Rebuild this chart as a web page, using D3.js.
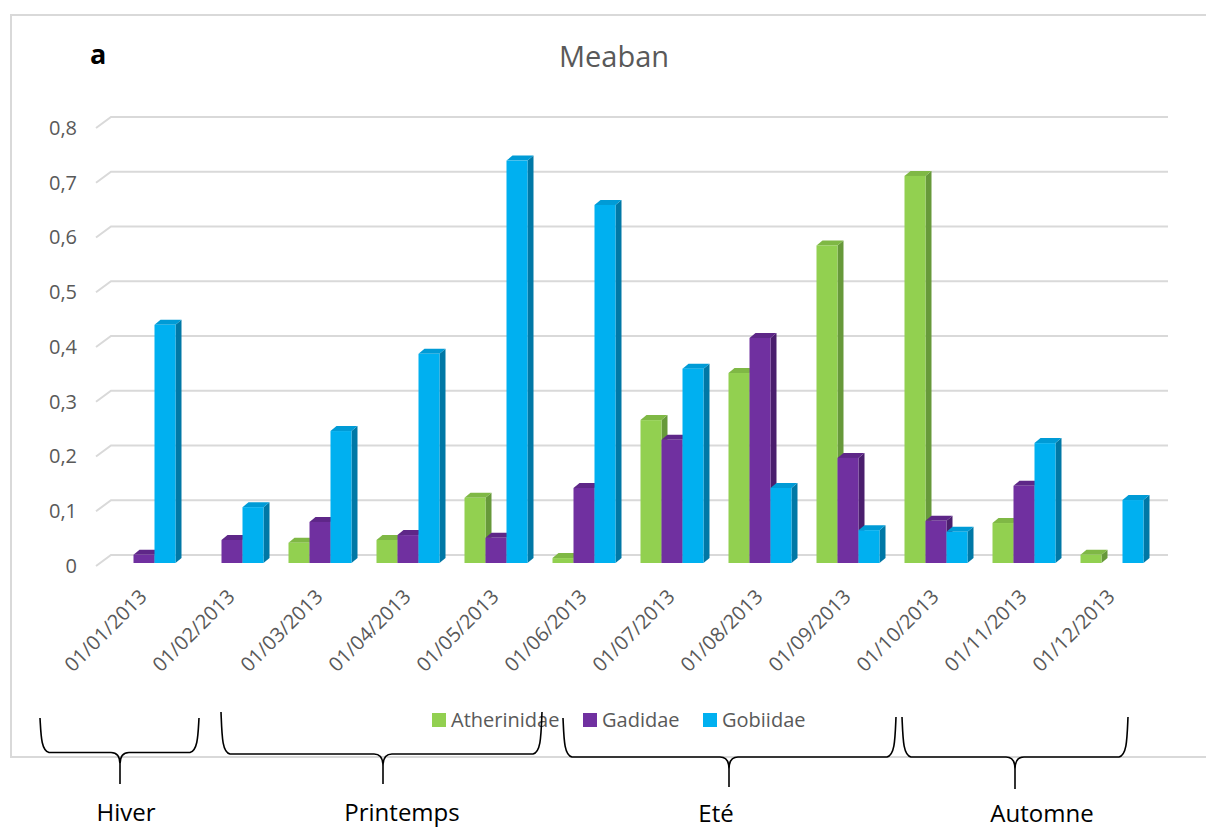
<!DOCTYPE html>
<html>
<head>
<meta charset="utf-8">
<script src="https://cdn.jsdelivr.net/npm/d3@7"></script>
<style>
  html, body { margin: 0; padding: 0; background: #fff; }
  svg { display: block; font-family: "Open Sans", "Noto Sans", sans-serif; }
</style>
</head>
<body>
<svg id="chart" width="1206" height="830"></svg>
<script>
// Monthly sampling dates
const dates = ["01/01/2013","01/02/2013","01/03/2013","01/04/2013","01/05/2013","01/06/2013",
               "01/07/2013","01/08/2013","01/09/2013","01/10/2013","01/11/2013","01/12/2013"];

// Families shown in each month
const families = ["Atherinidae", "Gadidae", "Gobiidae"];

// Values per family, one per month
const atherinidae = [0, 0, 0.037, 0.042, 0.119, 0.009, 0.261, 0.347, 0.58, 0.707, 0.073, 0.015];
const gadidae     = [0.015, 0.042, 0.075, 0.051, 0.046, 0.137, 0.225, 0.411, 0.192, 0.077, 0.141, 0];
const gobiidae    = [0.435, 0.102, 0.241, 0.382, 0.735, 0.654, 0.355, 0.137, 0.06, 0.057, 0.219, 0.115];

// Y axis ticks
const yTicks = [0, 0.1, 0.2, 0.3, 0.4, 0.5, 0.6, 0.7, 0.8];

// Seasons grouping the months
const seasons = ["Hiver", "Printemps", "Eté", "Automne"];

const colors = {
  Atherinidae: { front: "#92D050", top: "#7fb845", side: "#67993a" },
  Gadidae:     { front: "#7030A0", top: "#5e2788", side: "#4a1e6d" },
  Gobiidae:    { front: "#00B0F0", top: "#009bd6", side: "#0078a6" }
};

const seriesValues = { Atherinidae: atherinidae, Gadidae: gadidae, Gobiidae: gobiidae };

const svg = d3.select("#chart");

// Chart frame
svg.append("rect")
  .attr("x", 11).attr("y", 15)
  .attr("width", 1300).attr("height", 742)
  .attr("fill", "none").attr("stroke", "#d9d9d9").attr("stroke-width", 2);

// Scales
const x0 = d3.scaleBand().domain(dates).range([100, 1156]);
const x1 = d3.scaleBand().domain(families).range([12.5, 75.5]);
const yBack = d3.scaleLinear().domain([0, 0.8]).range([555, 117]);   // back wall
const yBar  = d3.scaleLinear().domain([0, 0.8]).range([563, 125]);   // bar front faces
const depthX = 15, depthY = 11;   // floor offset from back wall to front
const dx = 6, dy = 5;             // bar depth

const fr = d3.formatLocale({ decimal: ",", thousands: " ", grouping: [3], currency: ["", "€"] });
const fmt = fr.format(".1~f");

// Gridlines: back-wall segment plus slanted floor segment
const grid = svg.append("g").attr("stroke", "#d9d9d9").attr("stroke-width", 2).attr("fill", "none");
yTicks.forEach(t => {
  const yb = yBack(t);
  grid.append("path")
    .attr("d", `M${96},${yb + depthY} L${96 + depthX},${yb} L1168,${yb}`);
});

// Y axis labels
const yAxisG = svg.append("g")
  .attr("transform", `translate(${77},${depthY})`)
  .call(d3.axisLeft(yBack).tickValues(yTicks).tickSize(0).tickPadding(0).tickFormat(fmt));
yAxisG.select(".domain").remove();
yAxisG.selectAll("text")
  .attr("fill", "#595959")
  .style("font-family", "'Open Sans', sans-serif")
  .style("font-size", "20px");

// Bars
const groups = svg.append("g").selectAll("g.month")
  .data(dates)
  .join("g")
  .attr("class", "month")
  .attr("transform", d => `translate(${x0(d)},0)`);

groups.each(function(d, i) {
  const g = d3.select(this);
  families.forEach(f => {
    const v = seriesValues[f][i];
    if (!(v > 0)) return;
    const x = x1(f), w = x1.bandwidth();
    const yt = yBar(v), y0 = yBar(0);
    const c = colors[f];
    // side face
    g.append("path")
      .attr("d", `M${x + w},${yt} L${x + w + dx},${yt - dy} L${x + w + dx},${y0 - dy} L${x + w},${y0} Z`)
      .attr("fill", c.side);
    // top face
    g.append("path")
      .attr("d", `M${x},${yt} L${x + dx},${yt - dy} L${x + w + dx},${yt - dy} L${x + w},${yt} Z`)
      .attr("fill", c.top);
    // front face
    g.append("rect")
      .attr("x", x).attr("y", yt)
      .attr("width", w).attr("height", y0 - yt)
      .attr("fill", c.front);
  });
});

// X axis labels, rotated
svg.append("g").selectAll("text")
  .data(dates)
  .join("text")
  .attr("transform", d => `translate(${x0(d) + x0.bandwidth() / 2 + 4},${598}) rotate(-45)`)
  .attr("text-anchor", "end")
  .attr("fill", "#595959")
  .style("font-size", "20px")
  .text(d => d);

// Title and panel letter
svg.append("text")
  .attr("x", 614).attr("y", 67)
  .attr("text-anchor", "middle")
  .attr("fill", "#595959")
  .style("font-size", "29px")
  .text("Meaban");

svg.append("text")
  .attr("x", 90).attr("y", 64)
  .attr("fill", "#000")
  .style("font-size", "27px").style("font-weight", "bold")
  .text("a");

// Legend
const legendX = [432, 583, 703];
const legend = svg.append("g").selectAll("g")
  .data(families)
  .join("g")
  .attr("transform", (d, i) => `translate(${legendX[i]},713)`);
legend.append("rect").attr("width", 14).attr("height", 14).attr("fill", d => colors[d].front);
legend.append("text")
  .attr("x", 19).attr("y", 14)
  .attr("fill", "#595959")
  .style("font-size", "20px")
  .text(d => d);

// Season braces
const braces = [
  { x1: 40,  x2: 199,  top1: 718, top2: 718, h: 752.5, xt: 120,  tip: 784 },
  { x1: 221, x2: 542,  top1: 712, top2: 712, h: 754,   xt: 383,  tip: 784 },
  { x1: 563, x2: 896,  top1: 718, top2: 717, h: 757,   xt: 729,  tip: 787 },
  { x1: 902, x2: 1128, top1: 717, top2: 717, h: 757,   xt: 1015, tip: 789 }
];
const labelPos = [
  { x: 126,  y: 821 },
  { x: 402,  y: 821 },
  { x: 716,  y: 822 },
  { x: 1042, y: 822 }
];

function bracePath(b) {
  const r = 9, tr = 9;
  return `M${b.x1},${b.top1}
    C${b.x1 + 1},${b.h - 18} ${b.x1 + 1},${b.h - 2} ${b.x1 + r},${b.h}
    L${b.xt - tr},${b.h}
    C${b.xt - 3},${b.h} ${b.xt},${b.h + 4} ${b.xt},${b.h + 12}
    L${b.xt},${b.tip}
    M${b.xt},${b.h + 12}
    C${b.xt},${b.h + 4} ${b.xt + 3},${b.h} ${b.xt + tr},${b.h}
    L${b.x2 - r},${b.h}
    C${b.x2 - 1},${b.h - 2} ${b.x2 - 1},${b.h - 18} ${b.x2},${b.top2}`;
}

svg.append("g").selectAll("path")
  .data(braces)
  .join("path")
  .attr("d", bracePath)
  .attr("fill", "none")
  .attr("stroke", "#000")
  .attr("stroke-width", 1.6);

svg.append("g").selectAll("text")
  .data(seasons)
  .join("text")
  .attr("x", (d, i) => labelPos[i].x)
  .attr("y", (d, i) => labelPos[i].y)
  .attr("text-anchor", "middle")
  .attr("fill", "#000")
  .style("font-size", "24px")
  .text(d => d);
</script>
</body>
</html>
